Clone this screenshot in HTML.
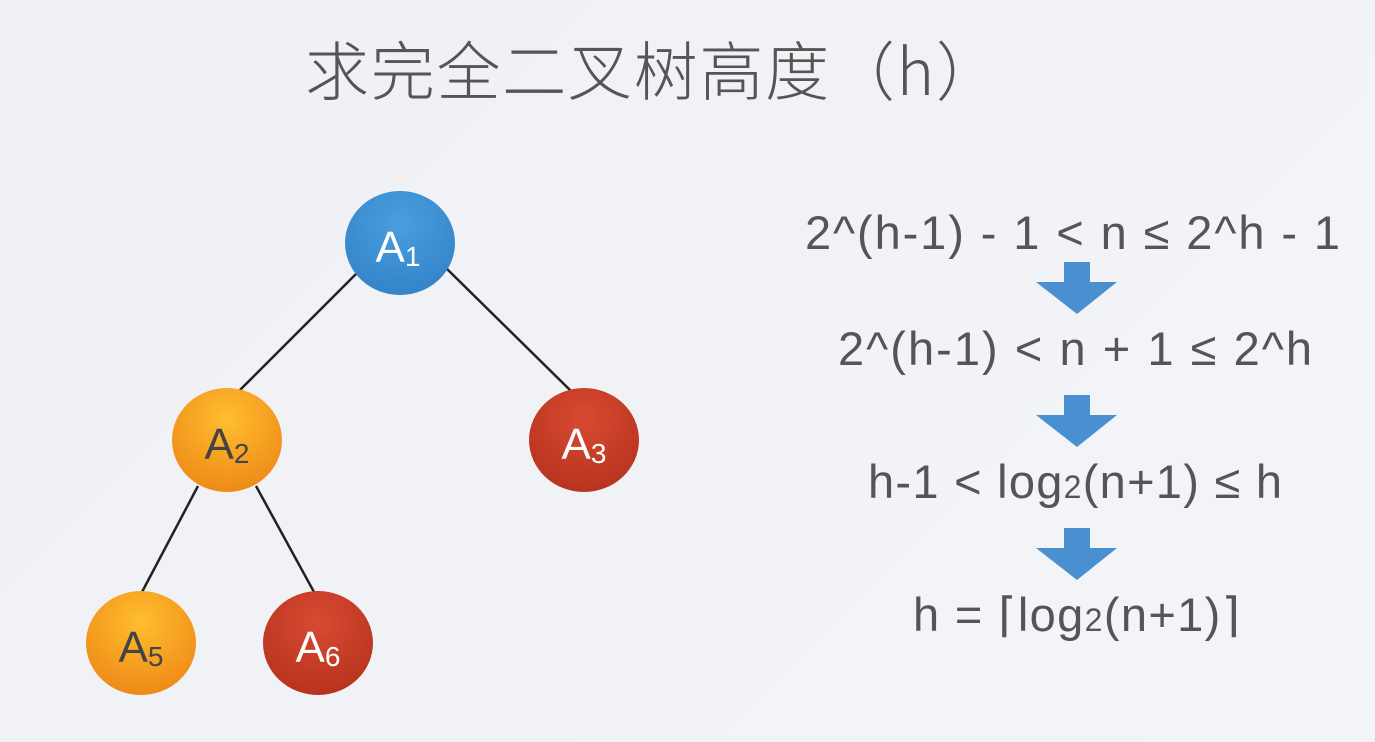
<!DOCTYPE html>
<html><head><meta charset="utf-8"><style>
html,body{margin:0;padding:0;}
body{width:1375px;height:737px;overflow:hidden;background:linear-gradient(135deg,#eef0f4,#f3f5f8);}
</style></head><body>
<svg width="1375" height="737" viewBox="0 0 1375 737" xmlns="http://www.w3.org/2000/svg" font-family="Liberation Sans, Noto Sans CJK SC, sans-serif">
<defs>
<radialGradient id="o" cx="50%" cy="30%" r="70%"><stop offset="0" stop-color="#ffbe2e"/><stop offset="1" stop-color="#ee8a18"/></radialGradient>
<radialGradient id="r" cx="50%" cy="30%" r="70%"><stop offset="0" stop-color="#d84a32"/><stop offset="1" stop-color="#b8331f"/></radialGradient>
<radialGradient id="b" cx="50%" cy="30%" r="70%"><stop offset="0" stop-color="#4a9fe0"/><stop offset="1" stop-color="#3384c8"/></radialGradient>
</defs>
<text x="305" y="95" font-size="64" fill="#555" font-family="Noto Sans CJK SC, sans-serif" font-weight="300" textLength="695" lengthAdjust="spacing">求完全二叉树高度（h）</text>
<g stroke="#222" stroke-width="2.5">
<line x1="356" y1="274" x2="240" y2="390"/>
<line x1="446" y1="268" x2="572" y2="392"/>
<line x1="198" y1="486" x2="142" y2="592"/>
<line x1="256" y1="486" x2="314" y2="592"/>
</g>
<ellipse cx="400" cy="243" rx="55" ry="52" fill="url(#b)"/>
<ellipse cx="227" cy="440" rx="55" ry="52" fill="url(#o)"/>
<ellipse cx="584" cy="440" rx="55" ry="52" fill="url(#r)"/>
<ellipse cx="141" cy="643" rx="55" ry="52" fill="url(#o)"/>
<ellipse cx="318" cy="643" rx="55" ry="52" fill="url(#r)"/>
<g font-size="44" fill="#fff" text-anchor="middle">
<text x="398" y="262">A<tspan font-size="28" dy="4">1</tspan></text>
<text x="227" y="459" fill="#444">A<tspan font-size="28" dy="4">2</tspan></text>
<text x="584" y="459">A<tspan font-size="28" dy="4">3</tspan></text>
<text x="141" y="662" fill="#444">A<tspan font-size="28" dy="4">5</tspan></text>
<text x="318" y="662">A<tspan font-size="28" dy="4">6</tspan></text>
</g>
<g font-size="47" fill="#555">
<text x="805" y="249" textLength="535" lengthAdjust="spacing">2^(h-1) - 1 &lt; n ≤ 2^h - 1</text>
<text x="838" y="365" textLength="474" lengthAdjust="spacing">2^(h-1) &lt; n + 1 ≤ 2^h</text>
<text x="868" y="498" textLength="414" lengthAdjust="spacing">h-1 &lt; log<tspan font-size="32">2</tspan>(n+1) ≤ h</text>
<text x="913" y="631" textLength="327" lengthAdjust="spacing">h = ⌈log<tspan font-size="32">2</tspan>(n+1)⌉</text>
</g>
<g fill="#4a90d0">
<polygon points="1064,262 1090,262 1090,282 1117,282 1077,314 1036,282 1064,282"/>
<polygon points="1064,395 1090,395 1090,415 1117,415 1077,447 1036,415 1064,415"/>
<polygon points="1064,528 1090,528 1090,548 1117,548 1077,580 1036,548 1064,548"/>
</g>
</svg>
</body></html>
